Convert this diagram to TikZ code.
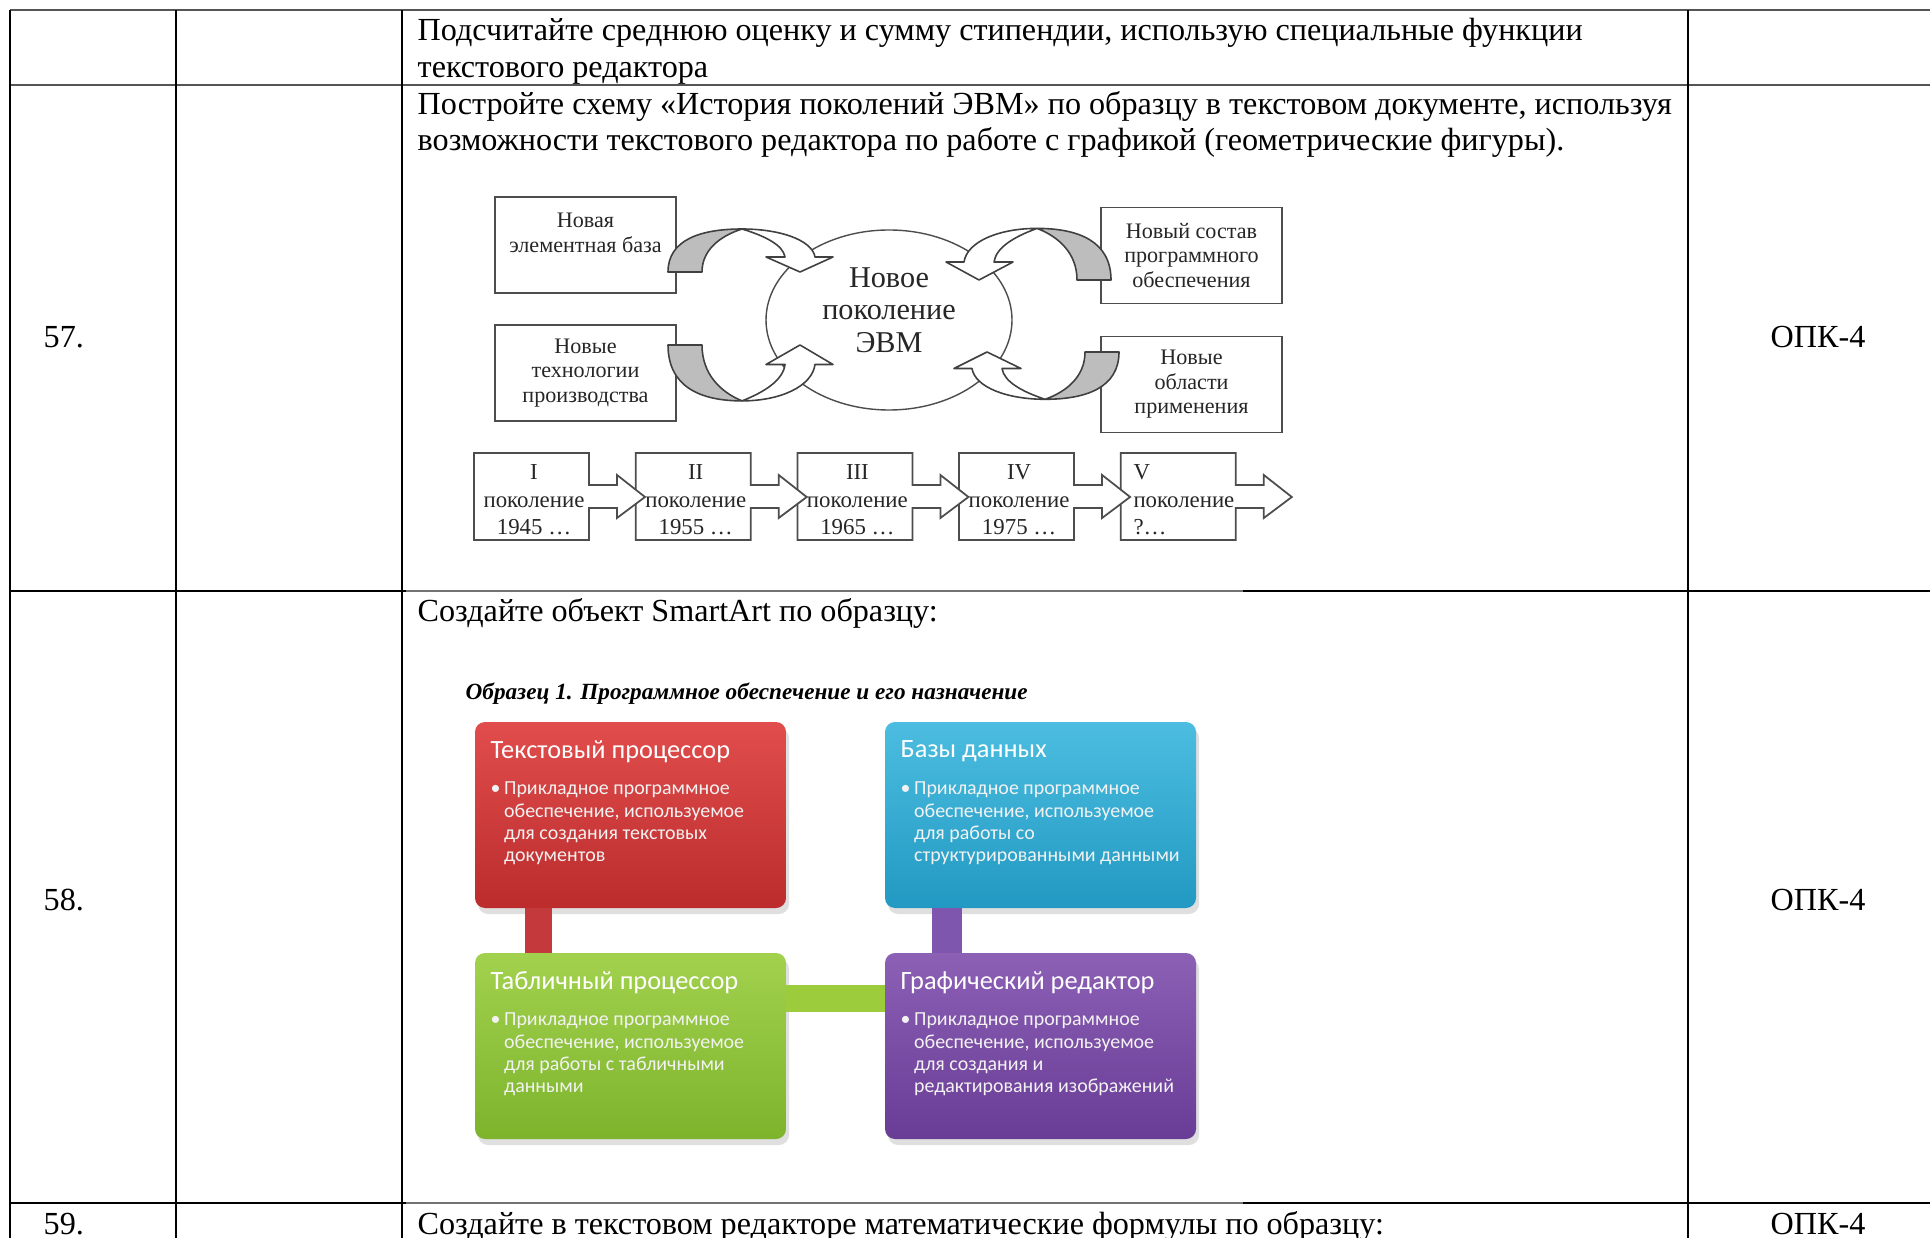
\documentclass[tikz,border=0pt]{standalone}
\usepackage{fontspec}
\setmainfont{Liberation Serif}
\newfontfamily\smartfont{Carlito}
\usetikzlibrary{positioning,shapes.geometric,shadows}

\definecolor{rulegrey}{HTML}{555555}
\definecolor{linegrey}{HTML}{4D4D4D}
\definecolor{arrowgrey}{HTML}{BDBDBD}
\definecolor{redtop}{HTML}{E04D4C}
\definecolor{redbot}{HTML}{BC2C2D}
\definecolor{bluetop}{HTML}{4CBDE0}
\definecolor{bluebot}{HTML}{2299C2}
\definecolor{greentop}{HTML}{A2D14E}
\definecolor{greenbot}{HTML}{7DB42C}
\definecolor{purpletop}{HTML}{8C60B5}
\definecolor{purplebot}{HTML}{693C96}
\definecolor{redbar}{HTML}{C4393B}
\definecolor{purplebar}{HTML}{7E56AD}
\definecolor{greenbar}{HTML}{9CCB3C}

\tikzset{
  hrule/.style={draw=rulegrey, line width=0.55pt},
  vrule/.style={draw=black, line width=0.4pt},
  tasktext/.style={anchor=base west, inner sep=0pt, font=\fontsize{9.15}{10.35}\selectfont},
  genbox/.style={draw=linegrey, line width=0.5pt, fill=white, align=center, inner sep=0pt,
    outer sep=0pt, minimum width=18.1mm, minimum height=9.6mm, text=black!85,
    font=\fontsize{6.3}{7}\selectfont},
  turnline/.style={draw=black!75, line width=0.45pt, line join=round},
  chainline/.style={draw=linegrey, line width=0.5pt, fill=white},
  gentext/.style={align=center, inner sep=0pt, text=black!85, font=\fontsize{6.5}{7.8}\selectfont},
  sabox/.style={rounded corners=1mm, minimum width=31.1mm, minimum height=18.6mm, inner sep=0pt,
    outer sep=0pt, drop shadow={shadow xshift=0.3mm, shadow yshift=-0.6mm, opacity=0.25}},
  sahead/.style={anchor=north west, inner sep=0pt, text=white, font=\smartfont\fontsize{7.5}{8.5}\selectfont},
  sabody/.style={anchor=north west, inner sep=0pt, text=white!95!black, font=\smartfont\fontsize{5.67}{6.35}\selectfont},
}

% curved arrow: origin, xscale, yscale
\newcommand{\turnarrow}[3]{%
  \begin{scope}[shift={#1}, xscale=#2, yscale=#3]
    \filldraw[turnline, fill=arrowgrey] (-17,0) .. controls (-17,-32) and (15,-43) .. (57,-43)
      .. controls (35,-36) and (17,-22) .. (17,0) -- cycle;
    \filldraw[turnline, fill=white] (57,-43) .. controls (95,-43) and (127,-32) .. (130,-15)
      -- (148,-15) -- (115,0) -- (81,-15) -- (100,-15)
      .. controls (98,-27) and (80,-36) .. (57,-43) -- cycle;
  \end{scope}}

\newcommand{\sabullet}[1]{\begin{tabular}{@{}l@{\hspace{0.35mm}}l@{}}•&\begin{tabular}[t]{@{}l@{}}#1\end{tabular}\end{tabular}}

\begin{document}
\begin{tikzpicture}[x=0.1mm, y=-0.1mm]
  \useasboundingbox (0,0) rectangle (1930,1238);
  \fill[white] (0,0) rectangle (1930,1238);

  % table
  \draw[hrule] (10,10) -- (1930,10);
  \draw[hrule] (10,85) -- (1930,85);
  \foreach \y in {591,1203} {
    \draw[vrule] (10,\y) -- (406,\y);
    \draw[vrule, draw=black!55] (406,\y) -- (1243,\y);
    \draw[vrule] (1243,\y) -- (1930,\y);
  }
  \foreach \x in {10,176,402,1688}
    \draw[vrule] (\x,10) -- (\x,1238);

  \node[tasktext] (t56a) at (417,41) {Подсчитайте среднюю оценку и сумму стипендии, использую специальные функции};
  \node[tasktext] (t56b) at ([yshift=-10.35pt]t56a.base west) {текстового редактора};
  \node[tasktext] (t57a) at (417,114.5) {Постройте схему «История поколений ЭВМ» по образцу в текстовом документе, используя};
  \node[tasktext] (t57b) at ([yshift=-10.35pt]t57a.base west) {возможности текстового редактора по работе с графикой (геометрические фигуры).};
  \node[tasktext] (n57) at (43,348) {57.};
  \node[tasktext] (k57) at (1770,348) {ОПК-4};
  \node[tasktext] (t58) at (417,621.5) {Создайте объект SmartArt по образцу:};
  \node[tasktext] (n58) at (43,910) {58.};
  \node[tasktext] (k58) at (1770,910) {ОПК-4};
  \node[tasktext] (n59) at (43,1234) {59.};
  \node[tasktext] (t59) at (417,1234) {Создайте в текстовом редакторе математические формулы по образцу:};
  \node[tasktext] (k59) at (1770,1234) {ОПК-4};

  % history of generations
  \node[genbox] (nb) at (585.5,245) {Новая\\элементная база\\\mbox{}};
  \node[genbox, below=3.2mm of nb] (nt) {Новые\\технологии\\производства};
  \node[genbox] (ns) at (1191.5,255.5) {Новый состав\\программного\\обеспечения};
  \node[genbox, below=3.3mm of ns] (no) {Новые\\области\\применения};
  \node[draw=linegrey, line width=0.4pt, ellipse, minimum width=24.6mm, minimum height=18mm,
    inner sep=0pt] (evm) at (889,320) {};
  \node[align=center, inner sep=0pt, text=black!85, font=\fontsize{8.6}{9.2}\selectfont]
    (evmtext) at ([yshift=1mm]evm.center) {Новое\\поколение\\ЭВМ};

  \turnarrow{(685,272)}{1}{1}
  \turnarrow{(685,345)}{1}{-1.3}
  \turnarrow{(1094,280)}{-1}{1.2}
  \turnarrow{(1102,352)}{-1}{-1.1}

  \foreach \i/\num/\yr in {4/V/?…, 3/IV/1975 …, 2/III/1965 …, 1/II/1955 …, 0/I/1945 …} {
    \pgfmathsetmacro\gx{474+161.7*\i}
    \draw[chainline] (\gx,453) -- ++(115,0) -- ++(0,32) -- ++(28,0) -- ++(0,-10) -- ++(28,22)
      -- ++(-28,21) -- ++(0,-10) -- ++(-28,0) -- ++(0,32) -- ++(-115,0) -- cycle;
    \ifnum\i=4
      \node[gentext, align=left, anchor=west] (gen\i) at (\gx+12,500) {\num\\поколение\\\yr};
    \else
      \node[gentext] (gen\i) at (\gx+60,500) {\num\\поколение\\\yr};
    \fi
  }

  % SmartArt
  \node[anchor=base west, inner sep=0pt, font=\bfseries\itshape\fontsize{6.6}{8}\selectfont] (sacap) at (465,699)
    {Образец 1. Программное обеспечение и его назначение};
  \node[sabox, anchor=north west, top color=redtop, bottom color=redbot] (tp) at (475,722) {};
  \node[sabox, right=9.9mm of tp, top color=bluetop, bottom color=bluebot] (bd) {};
  \node[sabox, below=4.5mm of tp, top color=greentop, bottom color=greenbot] (tab) {};
  \node[sabox, right=9.9mm of tab, top color=purpletop, bottom color=purplebot] (gr) {};

  \draw[redbar, line width=2.7mm] ([xshift=6.35mm]tp.south west) -- ([xshift=6.35mm]tab.north west);
  \draw[purplebar, line width=3mm] ([xshift=6.2mm]bd.south west) -- ([xshift=6.2mm]gr.north west);
  \draw[greenbar, line width=2.7mm] ([yshift=-4.55mm]tab.north east) -- ([yshift=-4.55mm]gr.north west);

  \node[sahead, below right=1.8mm and 1.5mm of tp.north west] (tpH) {Текстовый процессор};
  \node[sabody, below right=5.65mm and 1.5mm of tp.north west] (tpB)
    {\sabullet{Прикладное программное\\обеспечение, используемое\\для создания текстовых\\документов}};
  \node[sahead, below right=1.8mm and 1.5mm of bd.north west] (bdH) {Базы данных};
  \node[sabody, below right=5.65mm and 1.5mm of bd.north west] (bdB)
    {\sabullet{Прикладное программное\\обеспечение, используемое\\для работы со\\структурированными данными}};
  \node[sahead, below right=1.8mm and 1.5mm of tab.north west] (tabH) {Табличный процессор};
  \node[sabody, below right=5.65mm and 1.5mm of tab.north west] (tabB)
    {\sabullet{Прикладное программное\\обеспечение, используемое\\для работы с табличными\\данными}};
  \node[sahead, below right=1.8mm and 1.5mm of gr.north west] (grH) {Графический редактор};
  \node[sabody, below right=5.65mm and 1.5mm of gr.north west] (grB)
    {\sabullet{Прикладное программное\\обеспечение, используемое\\для создания и\\редактирования изображений}};
\end{tikzpicture}
\end{document}
